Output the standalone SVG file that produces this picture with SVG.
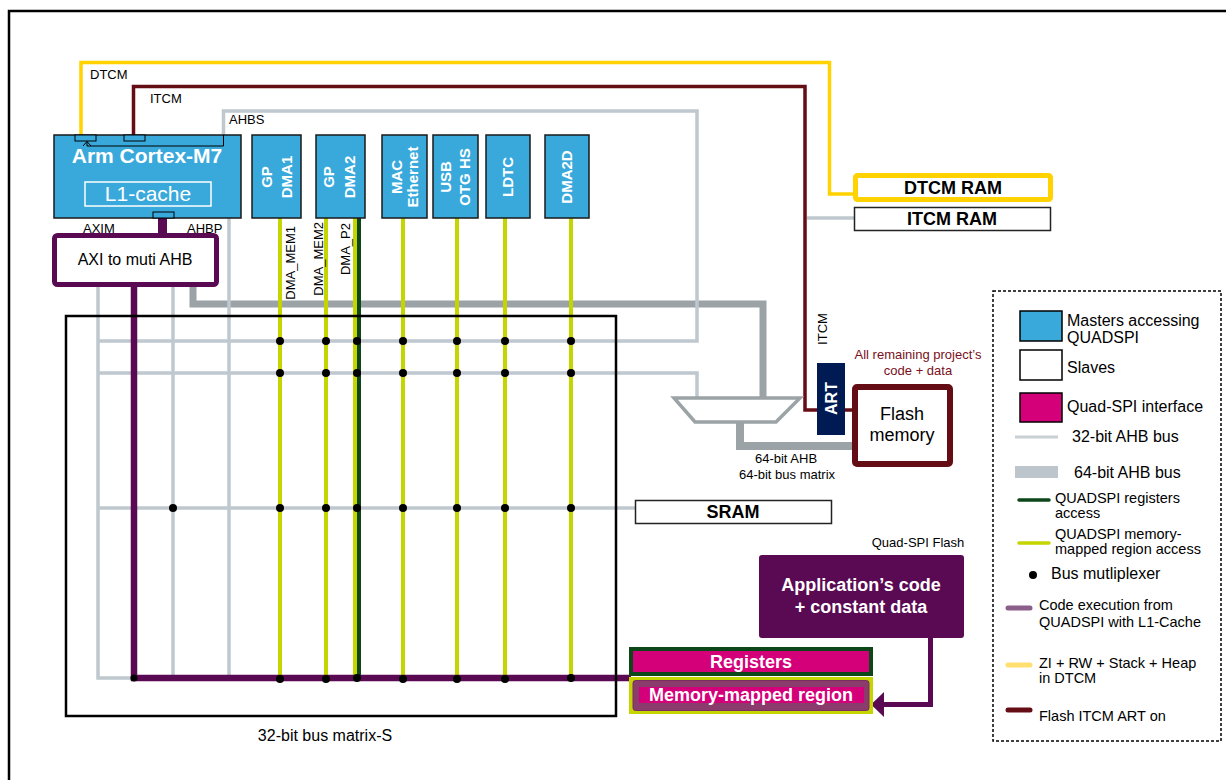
<svg xmlns="http://www.w3.org/2000/svg" width="1226" height="780" viewBox="0 0 1226 780">
<style>
text{font-family:"Liberation Sans",Arial,sans-serif;fill:#000}
.w{fill:#fff}
.b{font-weight:bold}
.c{text-anchor:middle}
.m{dominant-baseline:central}
.lg{stroke:#BEC8CE;stroke-width:3.5;fill:none}
.yg{stroke:#C5D500;stroke-width:4;fill:none}
.dot{fill:#000}
.master{fill:#39A9DC;stroke:#1a1a1a;stroke-width:1.5}
</style>
<rect width="1226" height="780" fill="#fff"/>
<path d="M9,780 V11 H1226" fill="none" stroke="#000" stroke-width="2.5"/>

<g id="connectors">
  <!-- 64-bit AHB -->
  <path d="M193,287 V304 H763 V398" fill="none" stroke="#9CA3A7" stroke-width="7"/>
  <path d="M740,422 V446 H855" fill="none" stroke="#9CA3A7" stroke-width="8"/>
  <!-- DTCM -->
  <path d="M81,135 V62.5 H829.5 V194 H855" fill="none" stroke="#FFD200" stroke-width="3.5"/>
  <!-- ITCM -->
  <path d="M133.5,135 V86.5 H805 V410 H817" fill="none" stroke="#640D14" stroke-width="3.5"/>
  <path d="M845,410 H855" fill="none" stroke="#640D14" stroke-width="3.5"/>
  <!-- AHBS and rows -->
  <path class="lg" d="M223.5,135 V111 H697 V341 H98"/>
  <path class="lg" d="M98,373 H697 V398"/>
  <path class="lg" d="M98,508 H635"/>
  <path class="lg" d="M807,218 H854"/>
  <path class="lg" d="M98,287 V678 H134"/>
  <path class="lg" d="M173,287 V676"/>
  <path class="lg" d="M229,218 V676"/>
  <!-- master verticals -->
  <path class="yg" d="M280,218 V678"/>
  <path class="yg" d="M326,218 V678"/>
  <path class="yg" d="M355,218 V678"/>
  <path d="M359,218 V678" stroke="#0D4719" stroke-width="4"/>
  <path class="yg" d="M403,218 V678"/>
  <path class="yg" d="M457,218 V678"/>
  <path class="yg" d="M505,218 V678"/>
  <path class="yg" d="M571,218 V678"/>
  <!-- purple code path -->
  <path d="M162.5,217 V236" stroke="#5A0A52" stroke-width="9"/>
  <path d="M134,287 V678 H631" fill="none" stroke="#5A0A52" stroke-width="6.5"/>
  <path d="M930.5,638 V704.5 H882" fill="none" stroke="#5A0A52" stroke-width="5"/>
  <polygon points="871,704.5 884,692 884,717" fill="#5A0A52"/>
  <!-- multiplexer dots -->
  <g class="dot">
    <circle cx="280" cy="341" r="4"/><circle cx="326" cy="341" r="4"/><circle cx="357" cy="341" r="4"/><circle cx="403" cy="341" r="4"/><circle cx="457" cy="341" r="4"/><circle cx="505" cy="341" r="4"/><circle cx="571" cy="341" r="4"/>
    <circle cx="280" cy="373" r="4"/><circle cx="326" cy="373" r="4"/><circle cx="357" cy="373" r="4"/><circle cx="403" cy="373" r="4"/><circle cx="457" cy="373" r="4"/><circle cx="505" cy="373" r="4"/><circle cx="571" cy="373" r="4"/>
    <circle cx="173" cy="508" r="4"/><circle cx="280" cy="508" r="4"/><circle cx="326" cy="508" r="4"/><circle cx="357" cy="508" r="4"/><circle cx="403" cy="508" r="4"/><circle cx="457" cy="508" r="4"/><circle cx="505" cy="508" r="4"/><circle cx="571" cy="508" r="4"/>
    <circle cx="134" cy="678" r="3.5"/><circle cx="280" cy="679" r="4"/><circle cx="326" cy="679" r="4"/><circle cx="357" cy="678" r="4"/><circle cx="403" cy="679" r="4"/><circle cx="457" cy="679" r="4"/><circle cx="505" cy="679" r="4"/><circle cx="571" cy="678" r="4"/>
  </g>
  <!-- labels -->
  <text x="90" y="79" font-size="13">DTCM</text>
  <text x="150" y="103" font-size="13">ITCM</text>
  <text x="229" y="124" font-size="13">AHBS</text>
  <text x="83" y="233" font-size="13">AXIM</text>
  <text x="187" y="233" font-size="13">AHBP</text>
  <text transform="translate(290,226) rotate(-90)" font-size="13" text-anchor="end" dominant-baseline="central">DMA_MEM1</text>
  <text transform="translate(318,222) rotate(-90)" font-size="13" text-anchor="end" dominant-baseline="central">DMA_MEM2</text>
  <text transform="translate(345,223) rotate(-90)" font-size="13" text-anchor="end" dominant-baseline="central">DMA_P2</text>
  <text transform="translate(822,329) rotate(-90)" font-size="13" class="c m">ITCM</text>
  <text x="786" y="463" font-size="13" class="c">64-bit AHB</text>
  <text x="787" y="479" font-size="13" class="c">64-bit bus matrix</text>
</g>

<g id="bus-matrix">
  <rect x="66" y="316" width="550" height="400" fill="none" stroke="#000" stroke-width="2.5"/>
  <text x="325" y="741" font-size="16" class="c">32-bit bus matrix-S</text>
</g>

<g id="cortex-m7">
  <rect class="master" x="54" y="135" width="187" height="83"/>
  <rect x="75" y="135" width="21" height="6" fill="#39A9DC" stroke="#000" stroke-width="1"/>
  <rect x="124" y="135" width="21" height="6" fill="#39A9DC" stroke="#000" stroke-width="1"/>
  <rect x="153" y="212" width="21" height="6" fill="#39A9DC" stroke="#000" stroke-width="1"/>
  <path d="M223.5,135 V146 H87 V141.5" fill="none" stroke="#000" stroke-width="1"/>
  <polyline points="83,146 87,141.5 91,146" fill="none" stroke="#000" stroke-width="1"/>
  <text x="147" y="163" font-size="21" class="w b c">Arm Cortex-M7</text>
  <rect x="85" y="182" width="126" height="24" fill="none" stroke="#fff" stroke-width="1.5"/>
  <text x="148" y="201" font-size="21" class="w c">L1-cache</text>
</g>

<g id="gp-dma1">
  <rect class="master" x="252" y="135" width="49" height="83"/>
  <text transform="translate(266,177) rotate(-90)" font-size="15" class="w b c m">GP</text>
  <text transform="translate(286.5,177) rotate(-90)" font-size="15" class="w b c m">DMA1</text>
</g>
<g id="gp-dma2">
  <rect class="master" x="316" y="135" width="49" height="83"/>
  <text transform="translate(328.5,177) rotate(-90)" font-size="15" class="w b c m">GP</text>
  <text transform="translate(349,177) rotate(-90)" font-size="15" class="w b c m">DMA2</text>
</g>
<g id="mac-ethernet">
  <rect class="master" x="382" y="135" width="45" height="83"/>
  <text transform="translate(396,177) rotate(-90)" font-size="15" class="w b c m">MAC</text>
  <text transform="translate(412.5,177) rotate(-90)" font-size="15" class="w b c m">Ethernet</text>
</g>
<g id="usb-otg-hs">
  <rect class="master" x="433" y="135" width="45" height="83"/>
  <text transform="translate(445.5,177) rotate(-90)" font-size="15" class="w b c m">USB</text>
  <text transform="translate(464.5,177) rotate(-90)" font-size="15" class="w b c m">OTG HS</text>
</g>
<g id="ldtc">
  <rect class="master" x="486" y="135" width="44" height="83"/>
  <text transform="translate(507,177) rotate(-90)" font-size="15" class="w b c m">LDTC</text>
</g>
<g id="dma2d">
  <rect class="master" x="545" y="135" width="44" height="83"/>
  <text transform="translate(566.5,177) rotate(-90)" font-size="15" class="w b c m">DMA2D</text>
</g>

<g id="axi-to-ahb">
  <rect x="54.5" y="235.5" width="162" height="49" rx="3" fill="#fff" stroke="#5A0A52" stroke-width="5"/>
  <text x="135" y="265" font-size="16" class="c">AXI to muti AHB</text>
</g>

<g id="dtcm-ram">
  <rect x="855.5" y="175.5" width="195" height="24" rx="2" fill="#fff" stroke="#FFD200" stroke-width="5"/>
  <text x="953" y="194" font-size="18" class="b c">DTCM RAM</text>
</g>
<g id="itcm-ram">
  <rect x="854.5" y="207.5" width="196" height="23" fill="#fff" stroke="#222" stroke-width="1.5"/>
  <text x="952" y="225" font-size="18" class="b c">ITCM RAM</text>
</g>

<g id="multiplexer">
  <polygon points="674,398 800,398 776,422 695,422" fill="#fff" stroke="#9CA3A7" stroke-width="3.5" stroke-linejoin="miter"/>
</g>

<g id="art">
  <rect x="817" y="363" width="28" height="72" fill="#001B54"/>
  <text transform="translate(831,398.5) rotate(-90)" font-size="16" class="w b c m">ART</text>
</g>

<g id="flash-memory">
  <rect x="855" y="387" width="95" height="77" rx="2" fill="#fff" stroke="#640D14" stroke-width="6"/>
  <text x="902" y="420" font-size="18" class="c">Flash</text>
  <text x="902" y="441" font-size="18" class="c">memory</text>
  <text x="918" y="359" font-size="13" class="c" style="fill:#7A1020">All remaining project’s</text>
  <text x="918" y="375" font-size="13" class="c" style="fill:#7A1020">code + data</text>
</g>

<g id="sram">
  <rect x="635.5" y="500.5" width="196" height="23" fill="#fff" stroke="#222" stroke-width="1.5"/>
  <text x="733" y="518" font-size="18" class="b c">SRAM</text>
</g>

<g id="app-code">
  <text x="918" y="547" font-size="13" class="c">Quad-SPI Flash</text>
  <rect x="759" y="555" width="205" height="83" rx="3" fill="#5A0A52"/>
  <text x="861" y="591" font-size="18" class="w b c">Application’s code</text>
  <text x="861" y="613" font-size="18" class="w b c">+ constant data</text>
</g>

<g id="registers">
  <rect x="631" y="649" width="240" height="25" fill="#D4007A" stroke="#0D4719" stroke-width="4"/>
  <text x="751" y="668" font-size="18" class="w b c">Registers</text>
</g>
<g id="memory-mapped">
  <rect x="629" y="677" width="244" height="37" fill="#C5D500"/>
  <rect x="633" y="680.5" width="236" height="30" rx="2.5" fill="#8A3C6D" stroke="#7a2f60" stroke-width="1"/>
  <rect x="639" y="687" width="225" height="16" fill="#D4007A"/>
  <text x="751" y="701" font-size="18" class="w b c">Memory-mapped region</text>
</g>

<g id="legend">
  <rect x="993" y="291" width="228" height="450" fill="none" stroke="#000" stroke-width="1.5" stroke-dasharray="3 2"/>
  <rect x="1020" y="311" width="42" height="30" fill="#39A9DC" stroke="#000" stroke-width="1.5"/>
  <text x="1067" y="326" font-size="16">Masters accessing</text>
  <text x="1067" y="343" font-size="16">QUADSPI</text>
  <rect x="1020" y="350" width="42" height="30" fill="#fff" stroke="#000" stroke-width="1.5"/>
  <text x="1067" y="373" font-size="16">Slaves</text>
  <rect x="1020" y="393" width="42" height="29" fill="#D4007A" stroke="#000" stroke-width="1.5"/>
  <text x="1067" y="412" font-size="16">Quad-SPI interface</text>
  <path d="M1015,437 H1058" stroke="#C8D0D4" stroke-width="3"/>
  <text x="1072" y="442" font-size="16">32-bit AHB bus</text>
  <rect x="1015" y="466" width="43" height="12" fill="#BCC6CC"/>
  <text x="1074" y="478" font-size="16">64-bit AHB bus</text>
  <path d="M1019,500 H1049" stroke="#0D4719" stroke-width="3.5" stroke-linecap="round"/>
  <text x="1055" y="503" font-size="14.5">QUADSPI registers</text>
  <text x="1055" y="518" font-size="14.5">access</text>
  <path d="M1019,543 H1049" stroke="#C5D500" stroke-width="3.5" stroke-linecap="round"/>
  <text x="1055" y="539" font-size="14.5">QUADSPI memory-</text>
  <text x="1055" y="554" font-size="14.5">mapped region access</text>
  <circle cx="1033" cy="575" r="4" fill="#000"/>
  <text x="1051" y="579" font-size="16">Bus mutliplexer</text>
  <path d="M1008,608 H1030" stroke="#8C5F8A" stroke-width="5" stroke-linecap="round"/>
  <text x="1039" y="610" font-size="14.5">Code execution from</text>
  <text x="1039" y="627" font-size="14.5">QUADSPI with L1-Cache</text>
  <path d="M1008,665 H1030" stroke="#FFDF70" stroke-width="5" stroke-linecap="round"/>
  <text x="1039" y="668" font-size="14.5">ZI + RW + Stack + Heap</text>
  <text x="1039" y="683" font-size="14.5">in DTCM</text>
  <path d="M1008,710 H1030" stroke="#640D14" stroke-width="5" stroke-linecap="round"/>
  <text x="1039" y="721" font-size="14.5">Flash ITCM ART on</text>
</g>
</svg>
